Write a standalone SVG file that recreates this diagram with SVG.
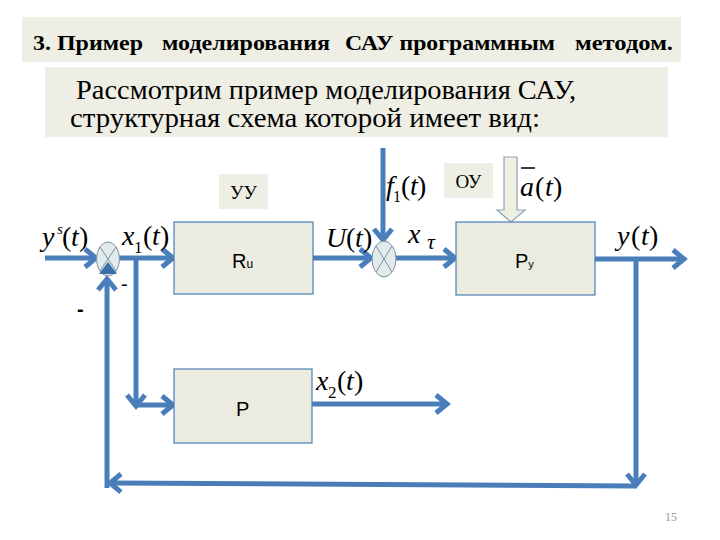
<svg xmlns="http://www.w3.org/2000/svg" width="720" height="540" viewBox="0 0 720 540">
<defs>
<style>
.hdr{fill:#eeeee4}
.blk{fill:#ebecdf;stroke:#4a7ebb;stroke-width:1.2}
.ln{stroke:#4a7ebb;stroke-width:5;fill:none}
.ttl{font-family:"Liberation Serif","Times New Roman",Tinos,"DejaVu Serif",serif;font-weight:bold;font-size:22px;fill:#000}
.txt{font-family:"Liberation Serif","Times New Roman",Tinos,"DejaVu Serif",serif;font-weight:normal;font-size:28px;fill:#000}
.lbl{font-family:"Liberation Serif","Times New Roman",Tinos,"DejaVu Serif",serif;font-size:19px;fill:#000}
.bl{font-family:"Liberation Sans","DejaVu Sans",sans-serif;font-size:20px;fill:#000}
.m{font-family:"Liberation Serif","Times New Roman",Tinos,"DejaVu Serif",serif;font-size:28px;fill:#000}
.mi{font-style:italic}
.sum{fill:#e2ebec;stroke:#7d8ea3;stroke-width:1}
.x{stroke:#7d8ea3;stroke-width:1}
</style>
<marker id="ah" markerUnits="userSpaceOnUse" markerWidth="30" markerHeight="30" viewBox="-15 -15 30 30" refX="0" refY="0" orient="auto">
<path d="M-11,-9 L0,0 L-11,9" fill="none" stroke="#4a7ebb" stroke-width="5"/>
</marker>
</defs>
<rect width="720" height="540" fill="#fff"/>
<g id="title">
<rect class="hdr" x="22" y="17" width="659" height="45"/>
<text class="ttl" x="33" y="50" textLength="110" lengthAdjust="spacingAndGlyphs">3. Пример</text>
<text class="ttl" x="162" y="50" textLength="168" lengthAdjust="spacingAndGlyphs">моделирования</text>
<text class="ttl" x="345" y="50" textLength="210" lengthAdjust="spacingAndGlyphs">САУ программным</text>
<text class="ttl" x="575" y="50" textLength="98" lengthAdjust="spacingAndGlyphs">методом.</text>
</g>
<g id="intro">
<rect class="hdr" x="45" y="67" width="623" height="70"/>
<text class="txt" x="76" y="99" textLength="500" lengthAdjust="spacingAndGlyphs">Рассмотрим пример моделирования САУ,</text>
<text class="txt" x="70" y="127" textLength="470" lengthAdjust="spacingAndGlyphs">структурная схема которой имеет вид:</text>
</g>
<g id="connectors">
<line class="ln" x1="45" y1="258" x2="96" y2="258" marker-end="url(#ah)"/>
<line class="ln" x1="119" y1="258" x2="173" y2="258" marker-end="url(#ah)"/>
<line class="ln" x1="136" y1="258" x2="136" y2="406" marker-end="url(#ah)"/>
<line class="ln" x1="136" y1="405" x2="173" y2="405" marker-end="url(#ah)"/>
<line class="ln" x1="313" y1="258" x2="371" y2="258" marker-end="url(#ah)"/>
<line class="ln" x1="383" y1="148" x2="383" y2="240" marker-end="url(#ah)"/>
<line class="ln" x1="396" y1="258" x2="455" y2="258" marker-end="url(#ah)"/>
<line class="ln" x1="595" y1="259" x2="684" y2="259" marker-end="url(#ah)"/>
<line class="ln" x1="636" y1="259" x2="636" y2="485" marker-end="url(#ah)"/>
<line class="ln" x1="636" y1="486" x2="110" y2="483" marker-end="url(#ah)"/>
<line class="ln" x1="107" y1="488" x2="107" y2="279" marker-end="url(#ah)"/>
<line class="ln" x1="312" y1="404" x2="447" y2="404" marker-end="url(#ah)"/>
<polygon points="504,157 517,157 517,210 525,210 511,222 497,210 504,210" fill="#f0f0e2" stroke="#8ea4bd" stroke-width="1.2"/>
</g>
<g id="sum1">
<ellipse class="sum" cx="108" cy="259" rx="11.5" ry="17"/>
<line class="x" x1="100" y1="247" x2="116" y2="271"/>
<line class="x" x1="116" y1="247" x2="100" y2="271"/>
<polygon points="108,262 117,274 99,274" fill="#3a6ea8"/>
</g>
<g id="sum2">
<ellipse class="sum" cx="384" cy="259" rx="12" ry="18"/>
<line class="x" x1="376" y1="246" x2="392" y2="272"/>
<line class="x" x1="392" y1="246" x2="376" y2="272"/>
</g>
<g id="UU"><rect class="hdr" x="219" y="174" width="49" height="35"/><text class="lbl" x="243.5" y="199" text-anchor="middle">УУ</text></g>
<g id="OU"><rect class="hdr" x="444" y="163" width="49" height="35"/><text class="lbl" x="468.5" y="188" text-anchor="middle">ОУ</text></g>
<g id="Ru"><rect class="blk" x="174" y="222" width="139" height="72"/><text class="bl" x="232" y="268">R<tspan font-size="12">u</tspan></text></g>
<g id="Py"><rect class="blk" x="456" y="222" width="139" height="73"/><text class="bl" x="515" y="268" font-size="18">Р<tspan font-size="11">у</tspan></text></g>
<g id="P"><rect class="blk" x="174" y="369" width="138" height="74"/><text class="bl" x="236" y="416">P</text></g>
<g id="labels">
<text class="m" y="246"><tspan class="mi" x="42">y</tspan><tspan class="mi" x="57" y="234" font-size="15">s</tspan><tspan x="62" y="246">(</tspan><tspan class="mi" x="71">t</tspan><tspan x="79">)</tspan></text>
<text class="m" y="245"><tspan class="mi" x="122">x</tspan><tspan x="134" y="253" font-size="17">1</tspan><tspan x="143" y="245">(</tspan><tspan class="mi" x="152">t</tspan><tspan x="160">)</tspan></text>
<text class="m" y="247"><tspan class="mi" x="326">U</tspan><tspan x="346">(</tspan><tspan class="mi" x="355">t</tspan><tspan x="363">)</tspan></text>
<text class="m" y="195" font-size="26"><tspan class="mi" x="386">f</tspan><tspan x="393" y="202" font-size="16">1</tspan><tspan x="401" y="195">(</tspan><tspan class="mi" x="410">t</tspan><tspan x="417">)</tspan></text>
<text class="m" y="196" font-size="30"><tspan class="mi" x="520">a</tspan><tspan x="535">(</tspan><tspan class="mi" x="545">t</tspan><tspan x="553">)</tspan></text>
<line x1="521" y1="168" x2="535" y2="168" stroke="#000" stroke-width="1.5"/>
<text class="m" y="243" font-size="42"><tspan class="mi" x="408">x</tspan><tspan class="mi" x="427" y="249" font-size="22">τ</tspan></text>
<text class="m" y="245" font-size="30"><tspan class="mi" x="617">y</tspan><tspan x="631">(</tspan><tspan class="mi" x="641">t</tspan><tspan x="649">)</tspan></text>
<text class="m" y="390"><tspan class="mi" x="316">x</tspan><tspan x="328" y="398" font-size="17">2</tspan><tspan x="337" y="390">(</tspan><tspan class="mi" x="346">t</tspan><tspan x="354">)</tspan></text>
<text class="bl" x="77" y="316" font-size="28" font-weight="bold">-</text>
<text class="bl" x="121" y="291" font-size="12">-</text>
<text x="665" y="521" font-family="Liberation Serif,serif" font-size="12" fill="#999">15</text>
</g>
</svg>
